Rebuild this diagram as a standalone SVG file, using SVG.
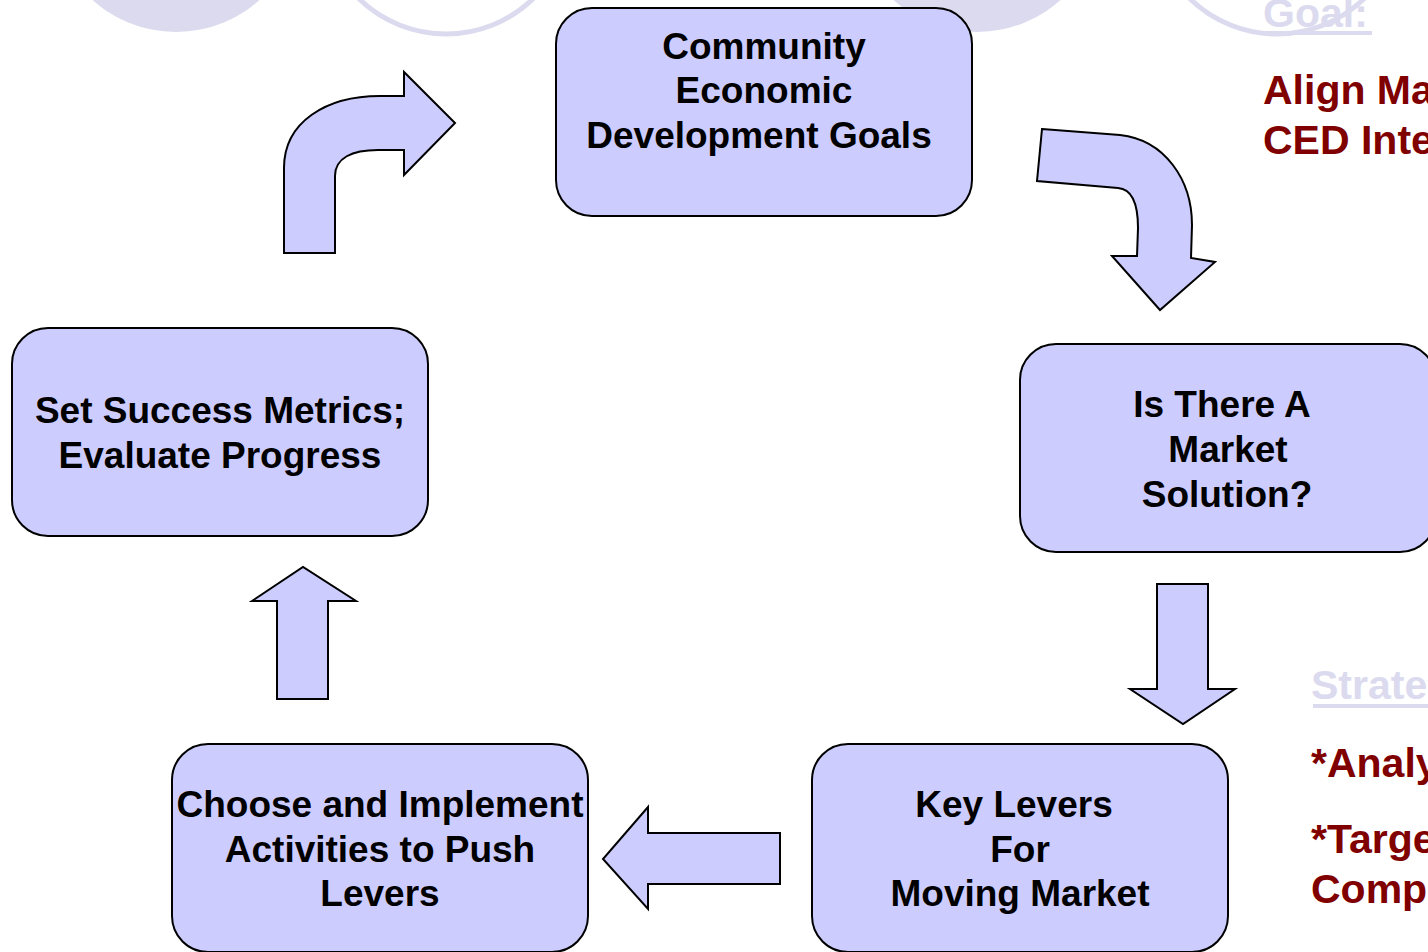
<svg xmlns="http://www.w3.org/2000/svg" width="1428" height="952" viewBox="0 0 1428 952">
<style>
.bg{fill:#dbdaee}
.ring{fill:none;stroke:#dbdaee;stroke-width:5}
.box{fill:#ccccff;stroke:#000;stroke-width:2}
.arr{fill:#ccccff;stroke:#000;stroke-width:2;stroke-linejoin:miter}
.t{font-family:"Liberation Sans",Arial,sans-serif;font-weight:bold;font-size:37px;fill:#000;text-anchor:middle}
.side{font-family:"Liberation Sans",Arial,sans-serif;font-weight:bold;font-size:41px}
.red{fill:#800000}
.lav{fill:#dbdaee}
</style>
<rect width="1428" height="952" fill="#fff"/>
<g id="background">
<circle class="bg" cx="176" cy="-93" r="125"/>
<circle class="ring" cx="446" cy="-91" r="125"/>
<circle class="bg" cx="977" cy="-93" r="125"/>
<circle class="ring" cx="1277" cy="-91" r="125"/>
</g>
<g id="side-text">
<text class="side lav" x="1263" y="27">Goal:</text>
<rect class="lav" x="1265" y="31" width="107" height="4"/>
<text class="side red" x="1263" y="104">Align Ma</text>
<text class="side red" x="1263" y="154">CED Inte</text>
<text class="side lav" x="1311" y="699">Strate</text>
<rect class="lav" x="1313" y="704" width="115" height="4"/>
<text class="side red" x="1311" y="777">*Analy</text>
<text class="side red" x="1311" y="853">*Targe</text>
<text class="side red" x="1311" y="903">Comp</text>
</g>
<g id="connectors">
<path class="arr" d="M284,253 L284,168 C284,122 326,96 380,96 L404,96 L404,72 L455,123 L404,175 L404,150 L378,150 C352,150 335,158 335,176 L335,253 Z"/>
<path class="arr" d="M1042,129 L1120,135 C1165,140 1192,180 1192,225 L1191,258 L1215,262 L1160,310 L1112,256 L1137,256 L1138,228 C1138,203 1132,189 1118,188 L1037,181 Z"/>
<path class="arr" d="M1157,584 L1208,584 L1208,689 L1235,689 L1183,724 L1130,689 L1157,689 Z"/>
<path class="arr" d="M780,833 L648,833 L648,807 L603,859 L648,909 L648,884 L780,884 Z"/>
<path class="arr" d="M277,699 L277,601 L252,601 L303,567 L356,601 L328,601 L328,699 Z"/>
</g>
<g id="node-goals">
<rect class="box" x="556" y="8" width="416" height="208" rx="36"/>
<text class="t" x="764" y="59">Community</text>
<text class="t" x="764" y="103">Economic</text>
<text class="t" x="759" y="148">Development Goals</text>
</g>
<g id="node-market">
<rect class="box" x="1020" y="344" width="416" height="208" rx="36"/>
<text class="t" x="1222" y="417">Is There A</text>
<text class="t" x="1228" y="462">Market</text>
<text class="t" x="1227" y="507">Solution?</text>
</g>
<g id="node-levers">
<rect class="box" x="812" y="744" width="416" height="208" rx="36"/>
<text class="t" x="1014" y="817">Key Levers</text>
<text class="t" x="1020" y="862">For</text>
<text class="t" x="1020" y="906">Moving Market</text>
</g>
<g id="node-activities">
<rect class="box" x="172" y="744" width="416" height="208" rx="36"/>
<text class="t" x="380" y="817">Choose and Implement</text>
<text class="t" x="380" y="862">Activities to Push</text>
<text class="t" x="380" y="906">Levers</text>
</g>
<g id="node-metrics">
<rect class="box" x="12" y="328" width="416" height="208" rx="36"/>
<text class="t" x="220" y="423">Set Success Metrics;</text>
<text class="t" x="220" y="468">Evaluate Progress</text>
</g>
</svg>
